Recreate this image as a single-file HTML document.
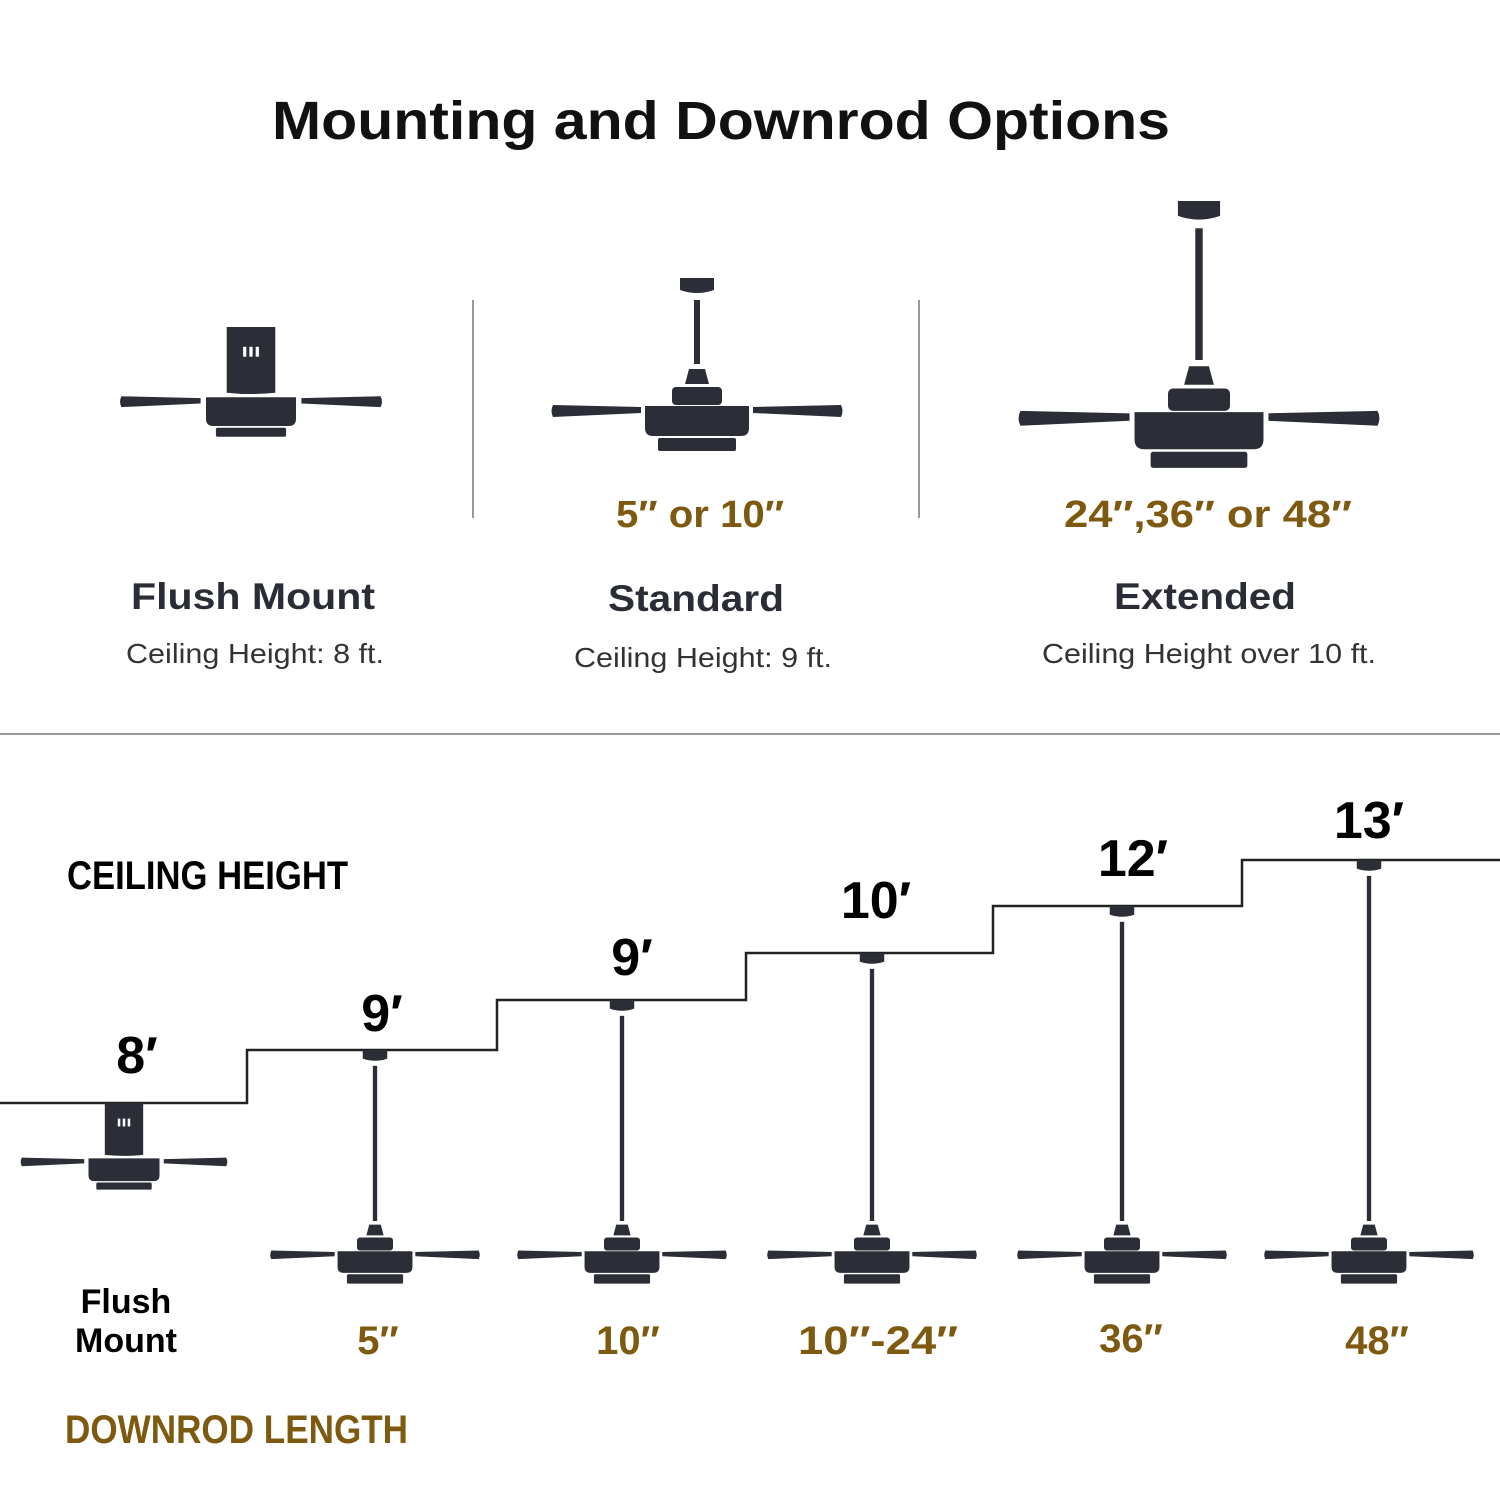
<!DOCTYPE html>
<html><head><meta charset="utf-8"><style>html,body{margin:0;padding:0;background:#fff}svg{display:block}</style></head>
<body>
<svg id="s" width="1500" height="1500" viewBox="0 0 1500 1500" xmlns="http://www.w3.org/2000/svg" font-family="Liberation Sans, Arial, sans-serif" font-weight="bold">
<rect width="1500" height="1500" fill="#fff"/>
<text x="721" y="139" font-size="54" text-anchor="middle" textLength="898" lengthAdjust="spacingAndGlyphs" fill="#111">Mounting and Downrod Options</text>
<line x1="473" y1="300" x2="473" y2="518" stroke="#999" stroke-width="2"/>
<line x1="919" y1="300" x2="919" y2="518" stroke="#999" stroke-width="2"/>
<line x1="0" y1="734" x2="1500" y2="734" stroke="#999" stroke-width="2"/>
<g fill="#7d5a10" font-size="38">
<text x="700" y="527" text-anchor="middle" textLength="168" lengthAdjust="spacingAndGlyphs">5″ or 10″</text>
<text x="1208" y="527" text-anchor="middle" textLength="288" lengthAdjust="spacingAndGlyphs">24″,36″ or 48″</text>
</g>
<g fill="#2a2d35" font-size="37" text-anchor="middle">
<text x="253" y="609" textLength="244" lengthAdjust="spacingAndGlyphs">Flush Mount</text>
<text x="696" y="611" textLength="176" lengthAdjust="spacingAndGlyphs">Standard</text>
<text x="1205" y="609" textLength="182" lengthAdjust="spacingAndGlyphs">Extended</text>
</g>
<g fill="#333" font-size="28" font-weight="normal" text-anchor="middle">
<text x="255" y="663" textLength="258" lengthAdjust="spacingAndGlyphs">Ceiling Height: 8 ft.</text>
<text x="703" y="667" textLength="258" lengthAdjust="spacingAndGlyphs">Ceiling Height: 9 ft.</text>
<text x="1209" y="663" textLength="334" lengthAdjust="spacingAndGlyphs">Ceiling Height over 10 ft.</text>
</g>
<text x="67" y="889" font-size="40" textLength="281" lengthAdjust="spacingAndGlyphs" fill="#000">CEILING HEIGHT</text>
<polyline points="0,1103 247,1103 247,1050 497,1050 497,1000 746,1000 746,953 993,953 993,906 1242,906 1242,860 1500,860" fill="none" stroke="#222" stroke-width="2.5"/>
<g fill="#000" font-size="52" text-anchor="middle">
<text x="137" y="1073">8′</text>
<text x="382" y="1031">9′</text>
<text x="632" y="975">9′</text>
<text x="876" y="918">10′</text>
<text x="1133" y="876">12′</text>
<text x="1369" y="838">13′</text>
</g>
<g fill="#7d5a10" font-size="40" text-anchor="middle">
<text x="378" y="1354">5″</text>
<text x="628" y="1354">10″</text>
<text x="878" y="1354" textLength="160" lengthAdjust="spacingAndGlyphs">10″-24″</text>
<text x="1131" y="1352">36″</text>
<text x="1377" y="1354">48″</text>
</g>
<g fill="#000" font-size="34" text-anchor="middle">
<text x="126" y="1313">Flush</text>
<text x="126" y="1352">Mount</text>
</g>
<text x="65" y="1443" font-size="40" textLength="343" lengthAdjust="spacingAndGlyphs" fill="#7d5a10">DOWNROD LENGTH</text>
<g id="fans" fill="#2b2e37"></g>
</svg>
<script>
var g=document.getElementById('fans'),h='';
function body(cx,y,s){
 var c='';
 c+='<path d="M'+(cx-8*s)+','+(y+5*s)+' L'+(cx+8*s)+','+(y+5*s)+' L'+(cx+12*s)+','+(y+20*s)+' L'+(cx-12*s)+','+(y+20*s)+'Z"/>';
 c+='<rect x="'+(cx-25*s)+'" y="'+(y+23*s)+'" width="'+(50*s)+'" height="'+(18*s)+'" rx="'+(4*s)+'"/>';
 c+=blades(cx,y+41*s,s);
 c+='<path d="M'+(cx-52*s)+','+(y+42*s)+' H'+(cx+52*s)+' V'+(y+64*s)+' Q'+(cx+52*s)+','+(y+72*s)+' '+(cx+44*s)+','+(y+72*s)+' H'+(cx-44*s)+' Q'+(cx-52*s)+','+(y+72*s)+' '+(cx-52*s)+','+(y+64*s)+'Z"/>';
 c+='<rect x="'+(cx-39*s)+'" y="'+(y+74*s)+'" width="'+(78*s)+'" height="'+(13*s)+'" rx="'+(2*s)+'"/>';
 return c;}
function blades(cx,y,s){
 return '<path d="M'+(cx-56*s)+','+(y+2*s)+' L'+(cx-144*s)+','+y+' Q'+(cx-147*s)+','+(y+6*s)+' '+(cx-144*s)+','+(y+12*s)+' L'+(cx-56*s)+','+(y+8*s)+'Z"/>'+
 '<path d="M'+(cx+56*s)+','+(y+2*s)+' L'+(cx+144*s)+','+y+' Q'+(cx+147*s)+','+(y+6*s)+' '+(cx+144*s)+','+(y+12*s)+' L'+(cx+56*s)+','+(y+8*s)+'Z"/>';}
function rodFan(cx,top,rodEnd,s){
 var c='<path d="M'+(cx-17*s)+','+top+' H'+(cx+17*s)+' V'+(top+12*s)+' Q'+cx+','+(top+18*s)+' '+(cx-17*s)+','+(top+12*s)+'Z"/>';
 c+='<rect x="'+(cx-3*s)+'" y="'+(top+22*s)+'" width="'+(6*s)+'" height="'+(rodEnd-top-22*s)+'"/>';
 return c+body(cx,rodEnd,s);}
function flush(cx,top,s){
 var bh=73*s,c='<path d="M'+(cx-27*s)+','+top+' H'+(cx+27*s)+' V'+(top+bh)+' Q'+cx+','+(top+bh+3*s)+' '+(cx-27*s)+','+(top+bh)+'Z"/>';
 for(var i=-1;i<=1;i++)c+='<rect x="'+(cx+i*7*s-1.8*s)+'" y="'+(top+22*s)+'" width="'+(3.6*s)+'" height="'+(11*s)+'" fill="#fff"/>';
 var y=top+bh;
 c+=blades(cx,y+4*s,s);
 c+='<path d="M'+(cx-50*s)+','+(y+5*s)+' H'+(cx+50*s)+' V'+(y+29*s)+' Q'+(cx+50*s)+','+(y+37*s)+' '+(cx+42*s)+','+(y+37*s)+' H'+(cx-42*s)+' Q'+(cx-50*s)+','+(y+37*s)+' '+(cx-50*s)+','+(y+29*s)+'Z"/>';
 c+='<rect x="'+(cx-39*s)+'" y="'+(y+39*s)+'" width="'+(78*s)+'" height="'+(10*s)+'" rx="'+(2*s)+'"/>';
 return c;}
h+=flush(251,327,0.9);
h+=rodFan(697,278,364,1);
h+=rodFan(1199,201,360,1.24);
h+=flush(124,1103,0.71);
var xs=[375,622,872,1122,1369],ts=[1050,1000,953,906,860];
for(var i=0;i<5;i++)h+=rodFan(xs[i],ts[i],1221,0.72);
g.innerHTML=h;
</script>
</body></html>
